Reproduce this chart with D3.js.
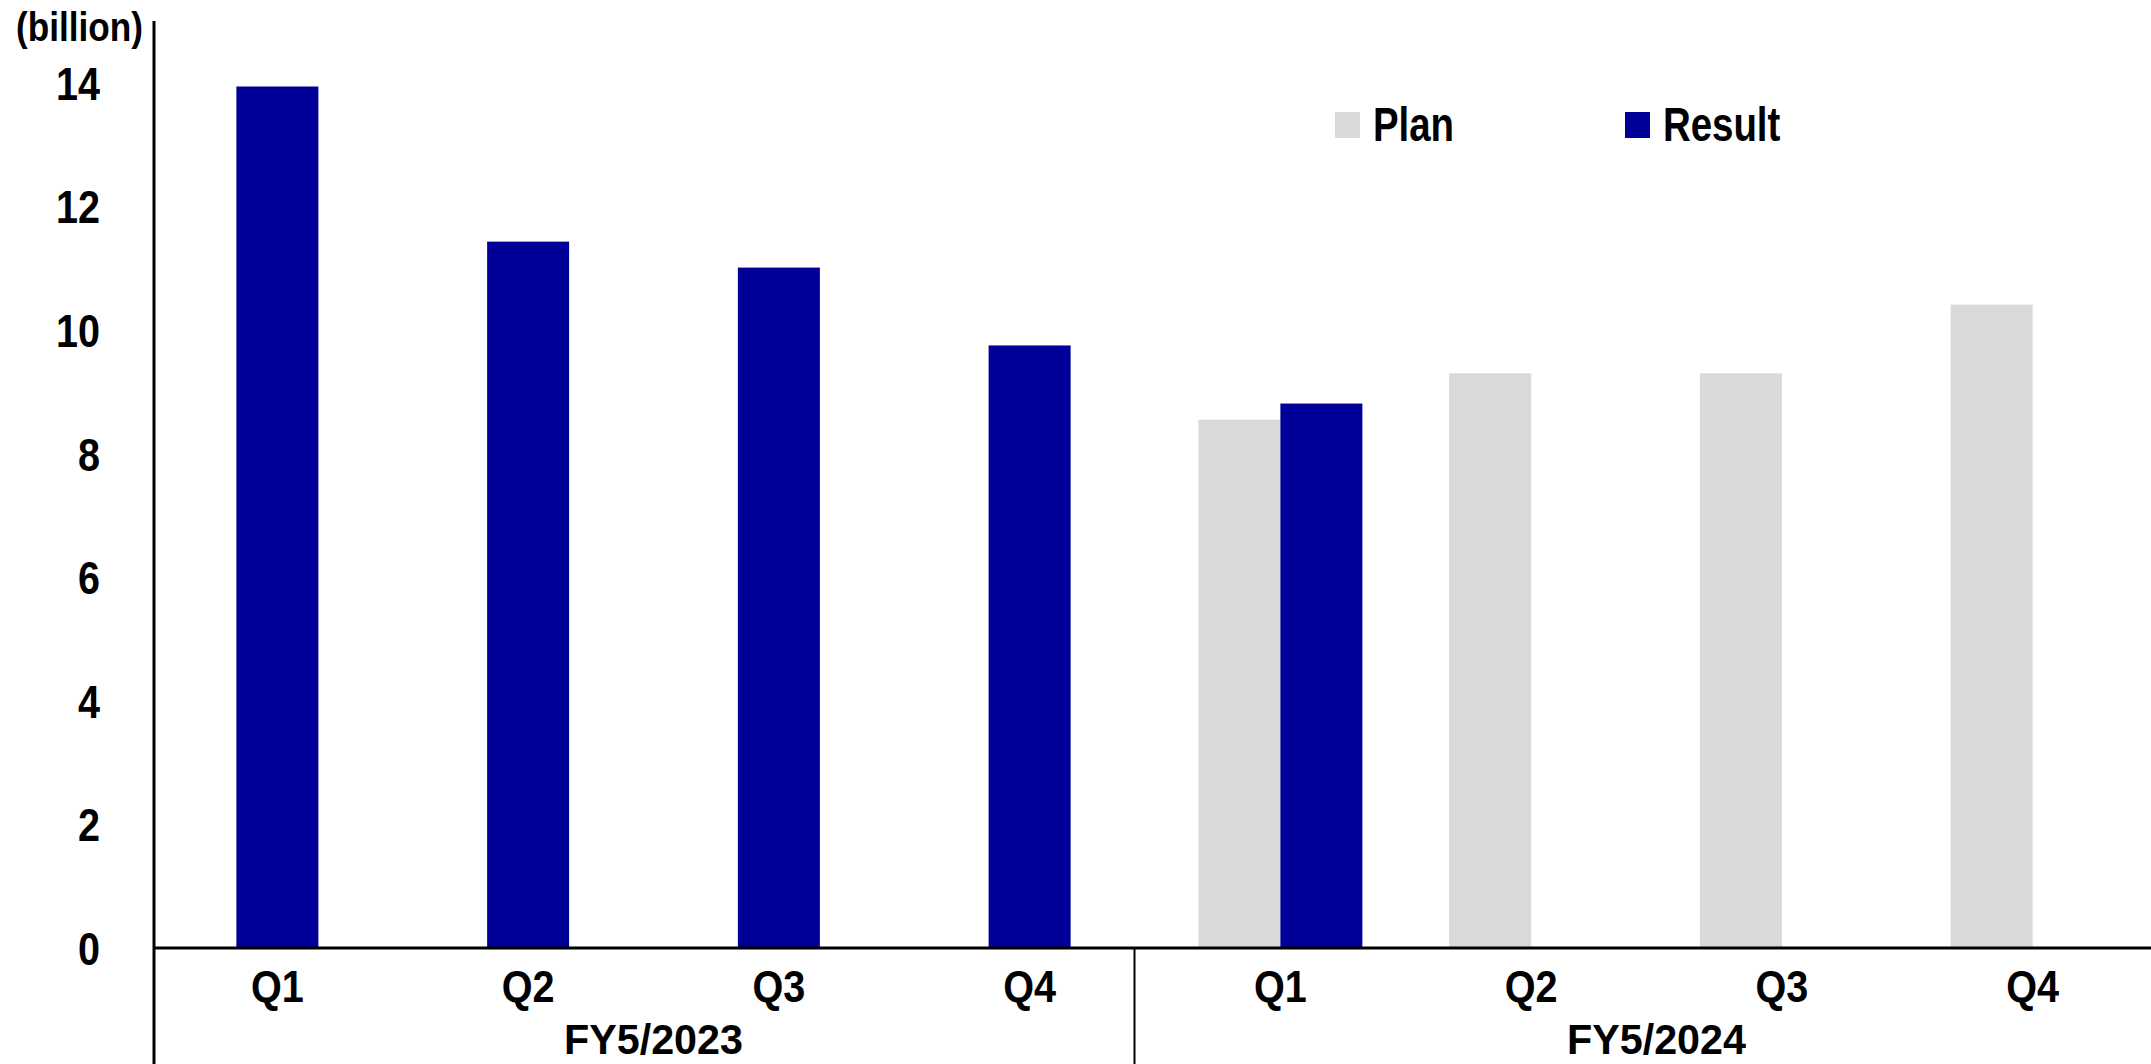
<!DOCTYPE html>
<html>
<head>
<meta charset="utf-8">
<script src="https://cdn.jsdelivr.net/npm/d3@7"></script>
<style>
  html, body { margin: 0; padding: 0; background: #fff; }
  svg text { font-family: 'Liberation Sans Narrow', 'Arial Narrow', 'Liberation Sans', Arial, sans-serif; font-weight: bold; fill: #000; }
</style>
</head>
<body>
<div id="chart"></div>
<script>
const quarters = ['Q1', 'Q2', 'Q3', 'Q4', 'Q1', 'Q2', 'Q3', 'Q4']
const fiscalYears = ['FY5/2023', 'FY5/2023', 'FY5/2023', 'FY5/2023', 'FY5/2024', 'FY5/2024', 'FY5/2024', 'FY5/2024']
const planValues = [null, null, null, null, 8.55, 9.30, 9.30, 10.41]
const resultValues = [13.94, 11.43, 11.01, 9.75, 8.81, null, null, null]
const yTicks = [0, 2, 4, 6, 8, 10, 12, 14]
const seriesNames = ['Plan', 'Result']

const w = 2151
const h = 1064
const colors = { Plan: '#d9d9d9', Result: '#000099' }

// the reference uses a narrow bold face, squeeze the regular one to match
function squeeze(sel, k) {
  sel.each(function () {
    const t = d3.select(this)
    const ax = +t.attr('x') || 0
    t.attr('transform', `translate(${ax},0) scale(${k},1) translate(${-ax},0)`)
  })
}

const svg = d3.select('#chart')
  .append('svg')
  .attr('width', w)
  .attr('height', h)

const idx = quarters.map((q, i) => i)

const x = d3.scaleBand()
  .domain(idx)
  .range([152, 2158])

const y = d3.scaleLinear()
  .domain([0, 15])
  .range([948, 21])

const barW = 82

// years that have a plan get clustered bars, otherwise the result bar sits centred
const yearHasPlan = {}
fiscalYears.forEach((fy, i) => { if (planValues[i] != null) yearHasPlan[fy] = true })

const bars = []
idx.forEach(i => {
  const c = x(i) + x.bandwidth() / 2
  if (yearHasPlan[fiscalYears[i]]) {
    if (planValues[i] != null) bars.push({ s: 'Plan', v: planValues[i], x0: c - barW, i: i })
    if (resultValues[i] != null) bars.push({ s: 'Result', v: resultValues[i], x0: c, i: i })
  } else if (resultValues[i] != null) {
    bars.push({ s: 'Result', v: resultValues[i], x0: c - barW / 2, i: i })
  }
})

svg.selectAll('rect.bar')
  .data(bars)
  .enter()
  .append('rect')
  .attr('class', 'bar')
  .attr('x', d => d.x0)
  .attr('y', d => y(d.v))
  .attr('width', barW)
  .attr('height', d => y(0) - y(d.v))
  .style('fill', d => colors[d.s])

// y axis
const yAxis = d3.axisLeft(y).tickValues(yTicks).tickSize(0).tickPadding(54)
const gy = svg.append('g')
  .attr('transform', `translate(154, 0)`)
  .call(yAxis)
gy.select('.domain').remove()
gy.selectAll('text').style('font-size', '46px').attr('dy', '0.36em').call(squeeze, 0.86)

svg.append('line')
  .attr('x1', 154).attr('x2', 154)
  .attr('y1', y(15)).attr('y2', h)
  .style('stroke', '#000').style('stroke-width', 3)

svg.append('text')
  .attr('x', 143)
  .attr('y', 41)
  .attr('text-anchor', 'end')
  .style('font-size', '40px')
  .text('(billion)')
  .call(squeeze, 0.88)

// x axis
const xAxis = d3.axisBottom(x).tickFormat(i => quarters[i]).tickSize(0)
const gx = svg.append('g')
  .attr('transform', `translate(0, ${y(0)})`)
  .call(xAxis)
gx.select('.domain').remove()
gx.selectAll('text').style('font-size', '44px').attr('y', 54).attr('dy', null).call(squeeze, 0.9)

svg.append('line')
  .attr('x1', 154).attr('x2', w)
  .attr('y1', y(0)).attr('y2', y(0))
  .style('stroke', '#000').style('stroke-width', 3)

// year groups
const years = Array.from(new Set(fiscalYears))
years.forEach((fy, k) => {
  const members = idx.filter(i => fiscalYears[i] === fy)
  const left = x(members[0])
  const right = x(members[members.length - 1]) + x.step()
  svg.append('text')
    .attr('x', (left + right) / 2)
    .attr('y', 1054)
    .attr('text-anchor', 'middle')
    .style('font-size', '43px')
    .text(fy)
    .call(squeeze, 0.96)
  if (k > 0) {
    // divider sits in the middle of the gap between the two years' bars
    const prevEnd = d3.max(bars.filter(b => fiscalYears[b.i] === years[k - 1]), b => b.x0 + barW)
    const nextStart = d3.min(bars.filter(b => fiscalYears[b.i] === fy), b => b.x0)
    const dx = (prevEnd + nextStart) / 2
    svg.append('line')
      .attr('x1', dx).attr('x2', dx)
      .attr('y1', y(0)).attr('y2', h)
      .style('stroke', '#000').style('stroke-width', 2)
  }
})

// legend
const legendX = [1335, 1625]
const legend = svg.selectAll('g.legend')
  .data(seriesNames)
  .enter()
  .append('g')
  .attr('class', 'legend')
  .attr('transform', (d, i) => `translate(${legendX[i]}, 112)`)

legend.append('rect')
  .attr('width', 25)
  .attr('height', 26)
  .style('fill', d => colors[d])

legend.append('text')
  .attr('x', 38)
  .attr('y', 29)
  .style('font-size', '48px')
  .text(d => d)
  .call(squeeze, 0.8)
</script>
</body>
</html>
